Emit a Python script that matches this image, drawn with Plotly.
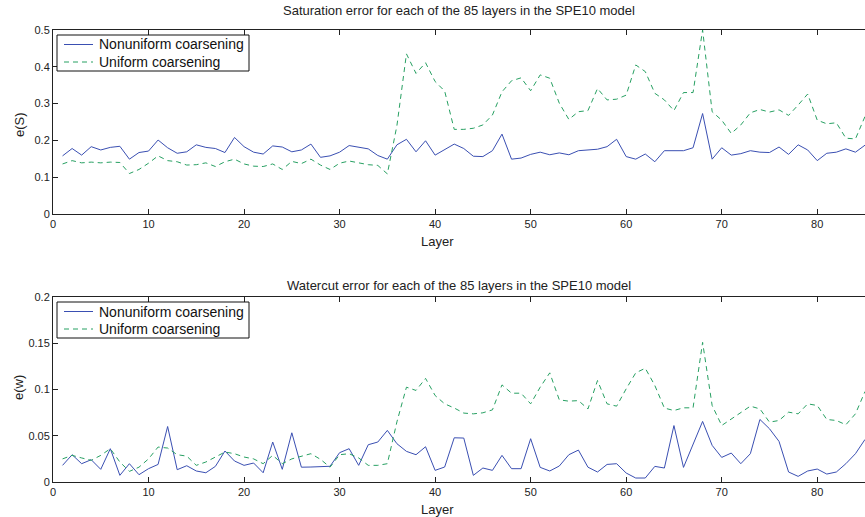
import plotly.graph_objects as go

layers = list(range(1, 86))

# Saturation error e(S)
sat_nonuniform = [
    0.158, 0.178, 0.160, 0.183, 0.174, 0.181, 0.184, 0.149, 0.167, 0.171,
    0.201, 0.180, 0.165, 0.169, 0.188, 0.181, 0.178, 0.167, 0.208, 0.183,
    0.168, 0.163, 0.185, 0.182, 0.169, 0.174, 0.190, 0.154, 0.158, 0.168,
    0.186, 0.182, 0.177, 0.159, 0.149, 0.188, 0.203, 0.169, 0.199, 0.160,
    0.176, 0.190, 0.178, 0.157, 0.156, 0.172, 0.217, 0.149, 0.152, 0.162,
    0.168, 0.161, 0.166, 0.161, 0.172, 0.174, 0.176, 0.183, 0.203, 0.156,
    0.149, 0.163, 0.142, 0.172, 0.172, 0.172, 0.180, 0.273, 0.149, 0.180,
    0.160, 0.164, 0.172, 0.168, 0.167, 0.182, 0.162, 0.188, 0.174, 0.145,
    0.165, 0.168, 0.177, 0.168, 0.187,
]
sat_uniform = [
    0.136, 0.145, 0.139, 0.141, 0.139, 0.141, 0.140, 0.110, 0.121, 0.138,
    0.158, 0.145, 0.142, 0.133, 0.134, 0.139, 0.129, 0.142, 0.149, 0.136,
    0.130, 0.129, 0.136, 0.121, 0.143, 0.137, 0.149, 0.133, 0.121, 0.138,
    0.144, 0.138, 0.134, 0.132, 0.109, 0.240, 0.435, 0.382, 0.411, 0.360,
    0.334, 0.230, 0.230, 0.233, 0.242, 0.269, 0.332, 0.362, 0.370, 0.335,
    0.378, 0.369, 0.301, 0.257, 0.278, 0.281, 0.341, 0.310, 0.312, 0.323,
    0.405, 0.387, 0.328, 0.310, 0.281, 0.330, 0.330, 0.500, 0.278, 0.255,
    0.219, 0.242, 0.275, 0.284, 0.277, 0.283, 0.268, 0.296, 0.326, 0.255,
    0.245, 0.248, 0.206, 0.204, 0.265,
]

# Watercut error e(w)
wc_nonuniform = [
    0.0180, 0.0295, 0.0198, 0.0241, 0.0137, 0.0360, 0.0072, 0.0198, 0.0079, 0.0144,
    0.0190, 0.0600, 0.0133, 0.0176, 0.0119, 0.0100, 0.0169, 0.0335, 0.0227, 0.0180,
    0.0205, 0.0100, 0.0432, 0.0137, 0.0532, 0.0160, 0.0162, 0.0168, 0.0170, 0.0317,
    0.0360, 0.0180, 0.0403, 0.0432, 0.0558, 0.0414, 0.0331, 0.0295, 0.0381, 0.0126,
    0.0162, 0.0478, 0.0475, 0.0072, 0.0151, 0.0126, 0.0288, 0.0144, 0.0144, 0.0468,
    0.0158, 0.0119, 0.0173, 0.0295, 0.0345, 0.0160, 0.0108, 0.0190, 0.0198, 0.0097,
    0.0043, 0.0043, 0.0169, 0.0151, 0.0610, 0.0158, 0.0403, 0.0655, 0.0396, 0.0266,
    0.0313, 0.0198, 0.0306, 0.0676, 0.0576, 0.0439, 0.0108, 0.0061, 0.0119, 0.0140,
    0.0086, 0.0108, 0.0198, 0.0306, 0.0460,
]
wc_uniform = [
    0.0250, 0.0288, 0.0260, 0.0234, 0.0288, 0.0360, 0.0216, 0.0115, 0.0160, 0.0250,
    0.0378, 0.0367, 0.0295, 0.0280, 0.0180, 0.0216, 0.0270, 0.0324, 0.0306, 0.0270,
    0.0250, 0.0198, 0.0288, 0.0198, 0.0250, 0.0280, 0.0306, 0.0245, 0.0160, 0.0295,
    0.0306, 0.0260, 0.0180, 0.0180, 0.0198, 0.0650, 0.1025, 0.0990, 0.1120, 0.0935,
    0.0845, 0.0800, 0.0745, 0.0737, 0.0748, 0.0780, 0.1050, 0.0960, 0.0960, 0.0845,
    0.1025, 0.1180, 0.0888, 0.0874, 0.0880, 0.0790, 0.1097, 0.0845, 0.0820, 0.1007,
    0.1180, 0.1230, 0.1043, 0.0799, 0.0773, 0.0802, 0.0802, 0.1510, 0.0827, 0.0611,
    0.0683, 0.0755, 0.0820, 0.0790, 0.0647, 0.0665, 0.0755, 0.0737, 0.0845, 0.0827,
    0.0676, 0.0665, 0.0619, 0.0737, 0.0978,
]

series_names = ["Nonuniform coarsening", "Uniform coarsening"]
sat_ticks = [0, 0.1, 0.2, 0.3, 0.4, 0.5]
sat_ticktext = ["0", "0.1", "0.2", "0.3", "0.4", "0.5"]
wc_ticks = [0, 0.05, 0.1, 0.15, 0.2]
wc_ticktext = ["0", "0.05", "0.1", "0.15", "0.2"]
layer_ticks = [0, 10, 20, 30, 40, 50, 60, 70, 80]

BLUE = "#3a4fb2"
GREEN = "#27a062"
DASH = "5px,4px"
AXIS = "#222222"
FONT = "Liberation Sans, Arial, sans-serif"

W, H = 865, 517
ML, MR, MT, MB = 53, 0, 30, 35
PW, PH = W - ML - MR, H - MT - MB


def px_x(x):
    return (x - ML) / PW


def px_y(y):
    return (H - MB - y) / PH


styles = [dict(color=BLUE, width=1), dict(color=GREEN, width=1, dash=DASH)]

fig = go.Figure()
for name, ys, st in zip(series_names, [sat_nonuniform, sat_uniform], styles):
    fig.add_trace(go.Scatter(x=layers, y=ys, mode="lines", name=name, line=st,
                             xaxis="x", yaxis="y", showlegend=False))
for name, ys, st in zip(series_names, [wc_nonuniform, wc_uniform], styles):
    fig.add_trace(go.Scatter(x=layers, y=ys, mode="lines", name=name, line=st,
                             xaxis="x2", yaxis="y2", showlegend=False))

xcommon = dict(range=[0, 85], tickvals=layer_ticks, ticks="inside", ticklen=5,
               tickcolor=AXIS, showline=True, linecolor=AXIS, linewidth=1,
               mirror="ticks", showgrid=False, zeroline=False,
               tickfont=dict(size=11, color=AXIS, family=FONT))
ycommon = dict(ticks="inside", ticklen=5, tickcolor=AXIS, showline=True,
               linecolor=AXIS, linewidth=1, showgrid=False, zeroline=False,
               tickfont=dict(size=11, color=AXIS, family=FONT))

fig.update_layout(
    width=W, height=H,
    margin=dict(l=ML, r=MR, t=MT, b=MB),
    paper_bgcolor="white", plot_bgcolor="white",
    font=dict(family=FONT, color=AXIS),
    showlegend=False,
    xaxis=dict(domain=[0, 1], anchor="y", **xcommon),
    yaxis=dict(domain=[px_y(214), px_y(30)], anchor="x", range=[0, 0.5],
               tickvals=sat_ticks, ticktext=sat_ticktext, **ycommon),
    xaxis2=dict(domain=[0, 1], anchor="y2", **xcommon),
    yaxis2=dict(domain=[px_y(482), px_y(297)], anchor="x2", range=[0, 0.2],
                tickvals=wc_ticks, ticktext=wc_ticktext, **ycommon),
)

# Legend boxes drawn in the upper-left corner of each panel
shapes = []
annotations = []
legend_font = dict(size=14, color="#111111", family=FONT)
for top in (35, 302):
    shapes.append(dict(type="rect", xref="paper", yref="paper",
                       x0=px_x(57), x1=px_x(249), y0=px_y(top), y1=px_y(top + 36),
                       line=dict(color="#111111", width=1), fillcolor="white",
                       layer="above"))
    for i, (name, st) in enumerate(zip(series_names, styles)):
        yrow = top + 9.5 + 17.5 * i
        shapes.append(dict(type="line", xref="paper", yref="paper",
                           x0=px_x(64), x1=px_x(93), y0=px_y(yrow), y1=px_y(yrow),
                           line=st, layer="above"))
        annotations.append(dict(text=name, x=px_x(97), y=px_y(yrow),
                                xanchor="left", yanchor="middle", font=legend_font))

label_font = dict(size=13, color=AXIS, family=FONT)
title_font = dict(size=13, color=AXIS, family=FONT)
annotations += [
    dict(text="Saturation error for each of the 85 layers in the SPE10 model",
         x=px_x(459), y=px_y(11), font=title_font),
    dict(text="Watercut error for each of the 85 layers in the SPE10 model",
         x=px_x(459), y=px_y(285), font=title_font),
    dict(text="Layer", x=px_x(437), y=px_y(241), font=label_font),
    dict(text="Layer", x=px_x(437), y=px_y(509), font=label_font),
    dict(text="e(S)", x=px_x(19), y=px_y(125), textangle=-90, font=label_font),
    dict(text="e(w)", x=px_x(18), y=px_y(388), textangle=-90, font=label_font),
]
for a in annotations:
    a.setdefault("xanchor", "center")
    a.setdefault("yanchor", "middle")
    a.update(xref="paper", yref="paper", showarrow=False)
fig.update_layout(shapes=shapes, annotations=annotations)

fig.write_html("out.html")
